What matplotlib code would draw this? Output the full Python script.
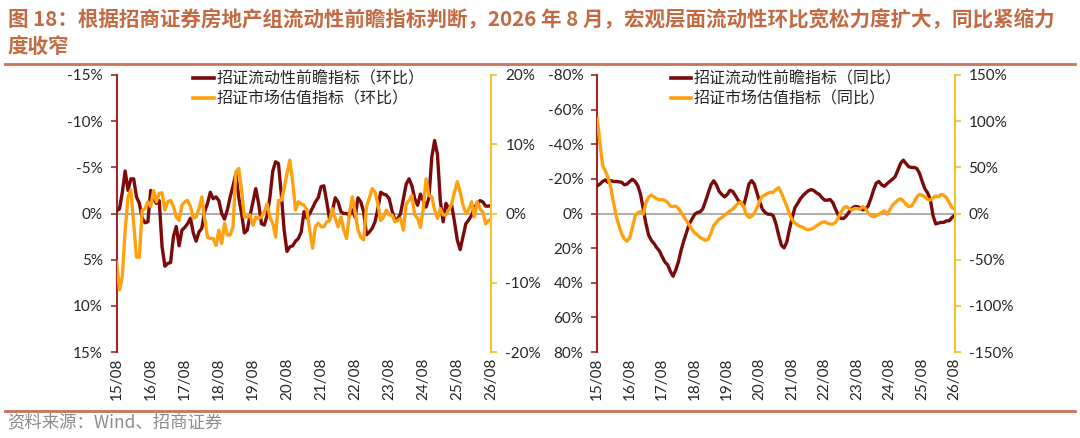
import matplotlib
matplotlib.use('Agg')
import numpy as np
from matplotlib import pyplot as plt
from matplotlib.ticker import FuncFormatter, MultipleLocator
from matplotlib.lines import Line2D

plt.rcParams['font.family'] = ['Lato', 'Noto Sans CJK SC', 'DejaVu Sans']
plt.rcParams['axes.unicode_minus'] = False

# monthly, 2015/08 .. 2026/08
years = ['15/08', '16/08', '17/08', '18/08', '19/08', '20/08', '21/08',
         '22/08', '23/08', '24/08', '25/08', '26/08']

# 环比 (%)
liq_mom = [-0.3, -0.5, -2.3, -4.6, -2.5, -3.75, -3.75, -1.8, -1.1, 0.5,
           1.0, 0.9, -2.5, -1.6, -1.1, -1.4, 3.6, 5.7, 5.4, 5.3,
           2.5, 1.4, 3.5, 1.8, 1.5, 1.1, 0.5, 2.1, 3.0, 2.0,
           1.6, -0.2, -1.1, -2.3, -1.6, -1.8, -1.4, 0.0, 0.6, -0.4,
           -1.8, -3.0, -4.3, -1.8, 0.0, 2.1, 1.8, 0.2, -1.25, -2.7,
           -1.1, 1.1, 1.25, 0.2, -1.8, -4.6, -5.6, -5.4, -2.1, 1.8,
           4.1, 3.6, 3.5, 3.0, 2.7, 2.0, -0.2, 0.5, 0.0, -0.6,
           -1.25, -1.7, -2.9, -3.0, -1.25, 0.6, -0.3, -1.7, -1.25, -0.2,
           0.0, 0.0, 0.2, -0.4, 0.4, -1.7, -1.25, -0.2, 2.3, 2.0,
           1.6, 0.9, -0.5, -2.3, -2.1, -2.0, -1.6, -0.3, 0.7, 0.6,
           0.0, -1.6, -3.2, -3.75, -3.0, -1.6, -0.9, -2.1, -1.4, -0.7,
           -1.7, -6.1, -7.9, -6.4, -1.4, 0.9, -1.1, -0.5, -0.9, 0.9,
           2.9, 3.9, 2.5, 1.1, 0.7, 0.2, -0.6, -1.1, -1.4, -1.25,
           -0.8, -0.8, -0.9]
val_mom = [-7.0, -11.0, -9.1, -2.4, 2.4, 3.4, -1.4, -6.3, -6.3, 0.5,
           0.7, 1.7, 1.0, 3.3, 1.7, 2.9, 3.0, 0.5, 1.7, 1.9,
           1.0, -0.5, -1.0, 1.2, 1.7, 1.9, 1.0, -0.7, -0.5, 0.7,
           2.4, -0.7, -3.4, -3.6, -3.6, -4.6, -2.4, -4.3, -1.4, -3.1,
           -3.1, -1.9, 6.0, 6.5, 3.4, -0.5, -0.5, -0.2, -1.7, -0.5,
           -0.7, -0.5, 0.2, 1.4, -0.5, -1.4, -3.4, 1.9, 1.9, 3.6,
           5.8, 7.7, 4.6, 0.5, 1.7, 1.4, 1.2, 0.5, -2.4, -5.0,
           -1.9, -1.4, -1.9, -1.9, -1.2, -1.0, 0.7, -0.7, -1.9, -0.5,
           -2.4, -3.6, 0.0, 2.4, 0.2, -2.4, -3.4, -3.8, 1.0, 2.2,
           3.6, 3.1, 1.4, -1.0, -0.5, 0.5, -0.2, -0.2, -1.2, -1.0,
           -0.7, -2.4, 1.4, 1.9, 2.6, -0.2, -0.7, -2.0, 0.7, 5.0,
           2.6, 2.4, 0.5, -0.7, 0.7, -0.2, -0.2, 0.5, 1.4, 3.1,
           4.6, 3.1, 1.2, 0.0, 0.5, 1.7, -0.5, 1.7, 0.7, 0.2,
           -1.5, -1.0, -0.8]

# 同比 (%)
liq_yoy = [-16, -17, -18.5, -19.4, -18, -19, -18.5, -18.5, -18.3, -18,
           -16.6, -17, -18.5, -19.8, -18.5, -16, -11, -2.5, 6, 12.6,
           15.5, 17.4, 19.8, 21.7, 25, 28, 29.6, 33.4, 36.2, 32.5,
           27.7, 21, 15.5, 10.8, 6, 3.2, 0.4, -0.6, -1, -2.8,
           -7.2, -11.9, -16.6, -18.9, -16.6, -12.8, -11, -9.6, -11, -13.4,
           -12.8, -10.4, -7.7, -6.2, -4.3, -10, -17, -19, -17, -11.9,
           -6.6, -2.5, -0.6, 0.4, 0.4, 1.3, 6, 12.6, 18.3, 19.8,
           16.4, 8.9, 2.3, -3.4, -5.8, -8.5, -10.4, -11.9, -13.2, -13.8,
           -13.2, -11.9, -11, -9.1, -7.7, -7.7, -8.1, -6.2, -2.5, 0.9,
           2.8, 2.8, 1.3, -0.9, -2.8, -4, -4, -3.4, -2.1, -2.5,
           -4.3, -8.5, -13.4, -17.5, -18.5, -16.6, -15.7, -17.2, -18.5, -19.8,
           -21.3, -25, -28.9, -30.8, -28.9, -27, -26.6, -26.6, -26, -23.2,
           -18.5, -14.2, -11.9, -8.1, 1.3, 6, 5.5, 5.1, 5.1, 4.2,
           4.2, 2.3, 0.9]
val_yoy = [103, 76, 52, 46, 39, 28, 12, -2.5, -13, -22,
           -27.5, -30, -26, -15, -2.5, 1, 2, -0.7, 12, 18,
           20, 18, 16, 15, 15, 14, 12, 8, 7.5, 8,
           5.4, 1, -3.2, -8, -12.5, -17, -21, -23, -26, -27.5,
           -29, -28, -21, -13, -9.6, -6, -4.3, -1.8, 0.4, 2.9,
           4.6, 8, 11, 12.5, 8, -0.7, -4.3, -3.2, 0.4, 6.4,
           13.6, 19, 20, 22, 23, 23, 26, 28, 22.5, 15,
           8, -0.7, -6.8, -10.4, -12.5, -14, -15, -16.8, -17.5, -16.8,
           -15.4, -13.2, -11.4, -9.6, -9, -10.4, -11.4, -11.4, -9.6, -4.3,
           1, 6.4, 7.5, 5.4, 3.9, 5.4, 5.4, 4.6, 7.5, 5.4,
           1, -2.5, -3.2, -2.5, -0.7, 1, 2.9, -0.7, 3.9, 8.9,
           11.8, 14.6, 16, 13.6, 10, 7.5, 8.2, 12.5, 18, 20.7,
           19.6, 18, 15.4, 14.6, 17, 19, 18, 20.7, 19.6, 17,
           11.8, 6.4, 4.6]

RED = '#7B0A0A'
ORANGE = '#FFA010'
RED_SPINE = '#9B2A2A'
GOLD_SPINE = '#F2C12E'
TITLE_C = '#C36A43'
TEXT_C = '#262626'

fig = plt.figure(figsize=(10.8, 4.38), dpi=100)

pct = FuncFormatter(lambda v, p: '{:.0f}%'.format(v))


def panel(rect, left_vals, right_vals, lrange, lstep, rrange, rstep, labels):
    ax = fig.add_axes(rect)
    ax2 = ax.twinx()
    x = np.arange(len(left_vals))
    ax.axhline(0, color='#A6A6A6', lw=1.3, zorder=0)
    ax.plot(x, left_vals, color=RED, lw=2.4, zorder=3)
    ax2.plot(x, right_vals, color=ORANGE, lw=2.4, zorder=2)
    ax.set_xlim(0, len(left_vals) - 1)
    ax.set_ylim(lrange, -lrange)
    ax2.set_ylim(-rrange, rrange)
    ax.yaxis.set_major_locator(MultipleLocator(lstep))
    ax2.yaxis.set_major_locator(MultipleLocator(rstep))
    ax.yaxis.set_major_formatter(pct)
    ax2.yaxis.set_major_formatter(pct)
    ax.set_xticks(np.arange(0, len(left_vals), 12))
    ax.set_xticklabels(years, rotation=90)
    ax.tick_params(axis='x', length=0, pad=4, labelsize=11, colors=TEXT_C)
    ax.tick_params(axis='y', length=4, width=1.2, color=RED_SPINE,
                   labelsize=11, labelcolor=TEXT_C, pad=6)
    ax2.tick_params(axis='y', length=4, width=1.2, color=GOLD_SPINE,
                    labelsize=11, labelcolor=TEXT_C, pad=6)
    for s in ['top', 'bottom', 'right']:
        ax.spines[s].set_visible(False)
    for s in ['top', 'bottom', 'left']:
        ax2.spines[s].set_visible(False)
    ax.spines['left'].set_color(RED_SPINE)
    ax.spines['left'].set_linewidth(1.5)
    ax2.spines['right'].set_color(GOLD_SPINE)
    ax2.spines['right'].set_linewidth(1.5)
    handles = [Line2D([], [], color=RED, lw=2.6), Line2D([], [], color=ORANGE, lw=2.6)]
    leg = ax2.legend(handles, labels, loc='upper left',
                     bbox_to_anchor=(0.205, 1.015), frameon=False,
                     borderpad=0, borderaxespad=0,
                     handlelength=1.3, handletextpad=0.15, labelspacing=0.2,
                     prop={'family': ['Noto Sans CJK SC'], 'size': 11.5})
    for t in leg.get_texts():
        t.set_color(TEXT_C)
    return ax, ax2


panel([0.108, 0.196, 0.347, 0.633], liq_mom, val_mom, 15, 5, 20, 10,
      ['招证流动性前瞻指标（环比）', '招证市场估值指标（环比）'])
panel([0.553, 0.196, 0.331, 0.633], liq_yoy, val_yoy, 80, 20, 150, 50,
      ['招证流动性前瞻指标（同比）', '招证市场估值指标（同比）'])

title_font = {'family': ['Noto Sans CJK SC'], 'size': 14.8, 'weight': 'bold', 'color': TITLE_C}
fig.text(0.007, 0.958, '图 18：根据招商证券房地产组流动性前瞻指标判断，2026 年 8 月，宏观层面流动性环比宽松力度扩大，同比紧缩力',
         va='center', ha='left', **title_font)
fig.text(0.007, 0.892, '度收窄', va='center', ha='left', **title_font)

fig.add_artist(Line2D([0.005, 0.995], [0.853, 0.853], color='#C8735A', lw=2))
fig.add_artist(Line2D([0.005, 0.995], [0.061, 0.061], color='#C8735A', lw=2))
fig.text(0.007, 0.035, '资料来源：Wind、招商证券', va='center', ha='left',
         family=['Noto Sans CJK SC'], size=12.5, color='#8C8C8C')

fig.savefig('out.png', dpi=100)
